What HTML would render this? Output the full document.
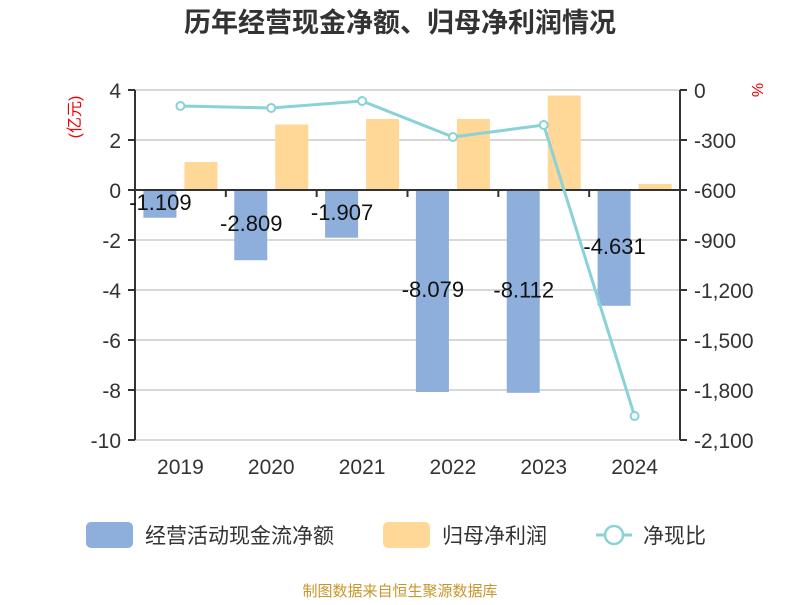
<!DOCTYPE html>
<html><head><meta charset="utf-8"><style>
body{margin:0;background:#fff;}
svg text{font-family:"Liberation Sans","Noto Sans CJK SC",sans-serif;}
</style></head><body>
<svg id="c" width="800" height="600" xmlns="http://www.w3.org/2000/svg">
<text x="400" y="32" text-anchor="middle" font-size="27" font-weight="bold" fill="#333">历年经营现金净额、归母净利润情况</text>
<g id="grid"></g><g id="bars"></g><g id="axes"></g><g id="line"></g><g id="labels"></g>
<text transform="translate(80,117) rotate(-90)" text-anchor="middle" font-size="16" fill="#e00">(亿元)</text>
<text transform="translate(752,90) rotate(90)" text-anchor="middle" font-size="16" fill="#e00">%</text>
<g>
<rect x="86" y="522" width="47" height="26" rx="5" fill="#8eaedb"/>
<text x="145" y="543" font-size="21" fill="#333">经营活动现金流净额</text>
<rect x="383" y="522" width="47" height="26" rx="5" fill="#ffd897"/>
<text x="442" y="543" font-size="21" fill="#333">归母净利润</text>
<line x1="596" y1="535" x2="632" y2="535" stroke="#88d2d8" stroke-width="3"/>
<circle cx="614" cy="535" r="9" fill="#fff" stroke="#88d2d8" stroke-width="2.5"/>
<text x="643" y="543" font-size="21" fill="#333">净现比</text>
</g>
<text x="400" y="596" text-anchor="middle" font-size="15" fill="#c8962a">制图数据来自恒生聚源数据库</text>
</svg>
<script>
const categories=["2019","2020","2021","2022","2023","2024"];
const cashFlow=[-1.109,-2.809,-1.907,-8.079,-8.112,-4.631];
const netProfit=[1.12,2.62,2.84,2.84,3.78,0.24];
const ratio=[-96,-108,-66,-282,-210,-1956];
const leftTicks=[4,2,0,-2,-4,-6,-8,-10];
const rightTicks=[0,-300,-600,-900,-1200,-1500,-1800,-2100];
const rightTickLabels=["0","-300","-600","-900","-1,200","-1,500","-1,800","-2,100"];
const NS="http://www.w3.org/2000/svg";
const X0=135,X1=680,Y0=90,Y1=440;
const step=(X1-X0)/categories.length;
const yL=v=>Y0+(4-v)/14*(Y1-Y0);
const yR=v=>Y0+(0-v)/2100*(Y1-Y0);
const xC=i=>X0+step*(i+0.5);
function mk(tag,attrs,parent,text){const e=document.createElementNS(NS,tag);for(const k in attrs)e.setAttribute(k,attrs[k]);if(text!==undefined)e.textContent=text;document.getElementById(parent).appendChild(e);return e;}
leftTicks.forEach((t,i)=>{
 const y=yL(t);
 if(t!==0){const g=mk('line',{x1:X0,x2:X1,y1:y,y2:y,stroke:'#ccc','stroke-width':1.5},'grid');
 
 }
 const tk=mk('line',{x1:X0-7,x2:X0,y1:y,y2:y,stroke:'#333','stroke-width':2},'axes');
 
 
 const l=mk('text',{x:X0-14,y:y+8,'text-anchor':'end','font-size':21,fill:'#333'},'axes',String(t));
 
 
});
rightTicks.forEach((t,i)=>{
 const y=yR(t);
 const tk=mk('line',{x1:X1,x2:X1+7,y1:y,y2:y,stroke:'#333','stroke-width':2},'axes');
 
 
 const l=mk('text',{x:X1+14,y:y+8,'font-size':21,fill:'#333'},'axes',rightTickLabels[i]);
 
 
});
let a=mk('line',{x1:X0,x2:X0,y1:Y0,y2:Y1,stroke:'#333','stroke-width':2},'axes');


a=mk('line',{x1:X1,x2:X1,y1:Y0,y2:Y1,stroke:'#333','stroke-width':2},'axes');


a=mk('line',{x1:X0,x2:X1,y1:yL(0),y2:yL(0),stroke:'#333','stroke-width':2},'axes');


for(let i=1;i<categories.length;i++){
 const tk=mk('line',{x1:X0+step*i,x2:X0+step*i,y1:yL(0),y2:yL(0)+7,stroke:'#333','stroke-width':2},'axes');
 
 
}
const bw=33;
categories.forEach((c,i)=>{
 const cx=xC(i);
 const l=mk('text',{x:cx,y:474,'text-anchor':'middle','font-size':21,fill:'#333'},'axes',c);
 
 
 const v=cashFlow[i];
 const b=mk('rect',{x:cx-37,y:yL(Math.max(0,v)),width:bw,height:Math.abs(yL(v)-yL(0)),fill:'#8eaedb'},'bars');
 
 
 const p=netProfit[i];
 const b2=mk('rect',{x:cx+4,y:yL(Math.max(0,p)),width:bw,height:Math.abs(yL(p)-yL(0)),fill:'#ffd897'},'bars');
 
 
 const t=mk('text',{x:cx-20,y:(yL(v)+yL(0))/2+6,'text-anchor':'middle','font-size':22,fill:'#111'},'labels',v.toFixed(3));
 
 
});
const pts=ratio.map((r,i)=>xC(i)+','+yR(r)).join(' ');
const pl=mk('polyline',{points:pts,fill:'none',stroke:'#88d2d8','stroke-width':3},'line');


ratio.forEach((r,i)=>{
 const d=mk('circle',{cx:xC(i),cy:yR(r),r:4,fill:'#fff',stroke:'#88d2d8','stroke-width':2},'line');
 
 
});
</script>
</body></html>
